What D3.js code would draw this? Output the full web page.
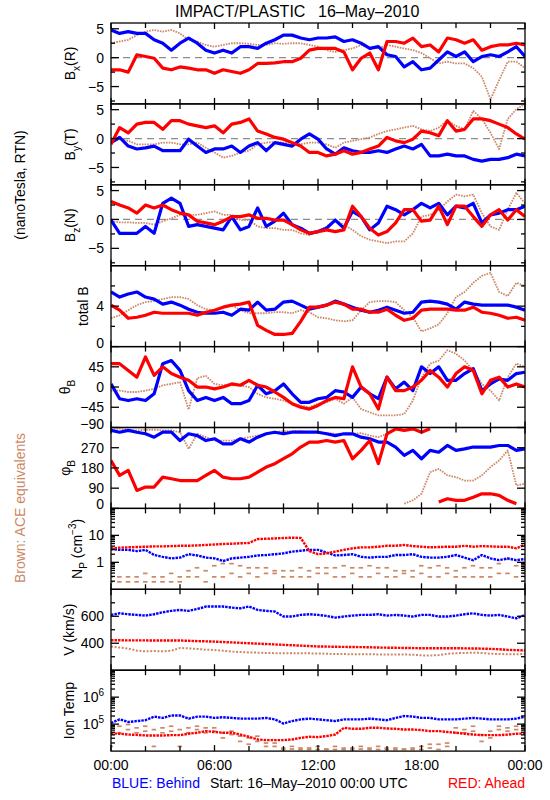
<!DOCTYPE html>
<html><head><meta charset="utf-8">
<script src="https://cdn.jsdelivr.net/npm/d3@7"></script>
<style>
body{margin:0;background:#fff}
svg text{font-family:"Liberation Sans",Arial,sans-serif;fill:#000}
</style>
</head><body>
<svg id="c" width="550" height="800"></svg>
<script>
// ---- time samples (hours from 16-May-2010 00:00 UTC) ----
const hours=[0,0.5,1,1.5,2,2.5,3,3.5,4,4.5,5,5.5,6,6.5,7,7.5,8,8.5,9,9.5,10,10.5,11,11.5,12,12.5,13,13.5,14,14.5,15,15.5,16,16.5,17,17.5,18,18.5,19,19.5,20,20.5,21,21.5,22,22.5,23,23.5,24];
const xTickHours=[0,6,12,18,24];
const xTickLabels=["00:00","06:00","12:00","18:00","00:00"];

// ---- Bx (R) nT ----
const bxBlue=[4.8,4.2,4.5,4.2,4.2,3.1,2.5,1.3,2.5,3.4,2.5,1.3,0.8,1.3,0.8,1.9,1.9,1.6,2.5,3.1,3.9,3.9,3.4,3.1,3.4,3.4,3.6,2.8,3.1,2.5,1.6,1.9,0.5,0.2,-1.6,-0.7,-2.1,-1.8,-0.4,1.0,0.2,1.0,-0.7,0.2,0.5,0.2,1.0,1.9,0.2];
const bxRed=[-2.1,-2.1,-2.5,0.5,0.2,-0.1,-1.8,-2.1,-1.6,-1.8,-2.1,-2.1,-2.7,-2.1,-2.4,-2.7,-2.1,-1.0,-1.0,-0.9,-0.7,-0.7,-0.1,1.3,1.6,1.6,1.6,1.0,-2.1,-0.1,0.8,-2.1,2.8,2.8,2.5,3.4,1.9,2.2,1.0,3.4,3.1,2.5,3.1,1.3,1.9,2.2,2.2,2.5,2.2];
const bxBrown=[2.5,2.8,3.1,3.9,4.5,4.8,4.5,4.8,4.2,3.1,2.8,2.2,1.9,2.2,2.5,2.5,2.4,2.2,2.2,2.5,2.4,2.5,2.5,2.2,1.9,1.3,1.0,1.3,1.6,2.2,1.6,1.6,2.2,1.9,1.6,1.3,0.8,-0.1,-1.0,-0.7,-1.0,-1.0,-1.8,-3.3,-7.2,-3.9,-0.7,-0.7,-1.8];
// ---- By (T) nT ----
const byBlue=[-0.7,0.2,-1.3,-1.8,-1.6,-1.3,-2.1,-2.1,-2.1,-0.1,-1.3,-2.4,-1.8,-1.8,-1.3,-2.4,-1.3,-0.7,-2.1,-0.7,-1.0,-1.3,-0.1,0.8,-0.1,-1.8,-2.7,-1.6,-2.1,-2.4,-2.4,-2.1,-2.4,-1.8,-1.3,-1.8,-1.0,-3.0,-3.0,-2.7,-3.0,-3.0,-3.6,-3.9,-3.6,-3.6,-3.3,-2.7,-3.0];
const byRed=[-1.0,1.9,1.0,2.5,2.8,2.8,1.6,3.1,3.1,2.5,2.2,1.9,2.2,1.0,2.5,2.8,3.4,1.3,0.8,0.2,-0.1,-0.7,-1.3,-2.4,-2.4,-3.0,-2.7,-2.1,-2.7,-2.4,-1.8,-1.3,0.2,-0.4,-0.7,-0.1,1.3,1.0,0.5,3.1,1.3,1.6,3.4,3.4,3.1,2.5,1.9,0.8,-0.1];
const byBrown=[-0.7,-0.1,-0.4,-1.0,-1.0,-1.0,-0.7,-0.7,-1.0,-1.0,-0.7,-1.6,-2.4,-3.3,-3.0,-2.4,-2.1,-1.0,-0.7,-0.6,-0.7,-0.7,-1.0,-0.7,-0.7,-1.0,-1.6,-0.7,-0.4,-0.1,0.2,0.8,1.3,1.6,1.9,2.2,1.6,1.3,1.9,3.1,2.2,1.6,4.8,3.4,1.0,-1.8,3.4,5.1,6.0];
// ---- Bz (N) nT ----
const bzBlue=[-0.1,-2.4,-2.4,-2.4,-1.2,-2.4,2.8,3.7,2.8,-1.2,-0.9,-1.2,-1.5,-1.8,0.5,-1.8,-1.2,2.0,-1.2,-0.3,1.1,-0.9,-1.5,-2.4,-2.1,-1.5,-0.1,-1.5,1.4,0.5,-1.8,-0.6,2.3,1.7,0.8,1.7,2.8,2.0,2.8,0.8,2.3,2.0,2.8,-0.6,0.8,1.1,1.7,1.7,2.3];
const bzRed=[3.1,2.5,2.0,1.1,2.5,2.0,2.5,1.7,1.1,0.8,-0.3,-0.6,-0.9,-0.3,0.5,0.5,0.8,0.2,0.2,-0.1,-0.1,-0.9,-1.8,-2.4,-2.1,-1.8,-2.1,-1.8,2.3,0.5,-1.5,-2.7,-2.1,-0.6,1.7,1.7,-0.3,-0.1,2.3,-0.9,2.3,2.3,0.5,-1.2,0.8,1.7,-0.1,1.7,0.5];
const bzBrown=[-0.3,-0.5,-0.5,-0.6,-0.6,-0.9,-0.3,0.2,0.8,0.8,0.8,1.1,1.4,0.8,0.8,-0.1,-0.1,-1.2,-1.5,-1.5,-1.8,-1.8,-2.4,-2.7,-2.1,-1.2,-0.1,-0.9,-1.8,-2.9,-3.5,-3.8,-4.1,-3.8,-3.8,-2.4,0.5,0.8,1.7,3.1,4.3,4.0,4.3,1.1,-1.2,-1.8,1.7,4.6,2.8];
// ---- total B nT ----
const btBlue=[5.4,4.9,5.2,5.4,4.9,4.7,4.2,4.4,4.1,3.7,3.4,3.3,3.3,3.4,3.1,3.7,3.6,4.4,3.6,3.7,4.4,4.5,4.1,3.7,3.9,4.1,4.5,4.2,3.9,3.6,3.4,3.6,3.9,3.6,3.3,3.4,4.4,4.5,4.4,4.2,3.7,4.4,4.2,4.1,4.1,4.1,4.1,3.9,3.6];
const btRed=[4.1,3.6,2.8,2.9,3.1,3.4,3.3,3.3,3.3,3.3,3.1,3.4,3.6,3.9,4.1,4.2,4.4,2.1,1.6,1.2,1.2,1.3,2.5,3.9,3.9,4.1,4.4,4.2,3.7,3.7,3.4,3.4,3.7,3.1,2.6,2.8,3.6,3.7,3.7,3.7,3.6,3.6,3.9,3.4,3.3,3.1,2.8,2.9,2.6];
const btBrown=[2.8,3.1,3.6,4.1,4.4,4.5,4.7,4.9,4.9,4.7,4.1,3.7,3.6,3.9,4.1,3.6,3.3,3.3,3.3,3.4,3.4,3.3,3.6,3.4,2.9,2.8,2.6,2.5,2.6,3.6,4.4,4.5,4.5,4.4,3.6,2.9,1.5,1.8,2.2,3.3,4.9,5.4,6.3,7.0,7.3,5.4,5.0,6.3,6.0];
// ---- theta_B deg ----
const thBlue=[7,-26,-30,-26,-30,-15,52,59,37,-8,-30,-23,-30,-23,-37,-37,-30,4,-15,-8,7,-15,-34,-34,-26,-23,-8,-11,-23,0,-15,-26,22,-4,11,-8,45,30,45,15,15,30,41,-8,7,18,15,30,33];
const thRed=[52,52,37,22,67,26,45,30,22,15,0,0,-4,0,7,4,15,4,0,-11,-23,-37,-45,-49,-41,-30,-23,-26,45,0,-15,-49,22,-8,-8,0,15,37,22,0,30,45,37,-15,15,22,0,7,0];
const thBrown=[-8,-8,-11,-11,-8,-4,4,7,11,-50,20,25,7,4,4,4,0,-15,-23,-26,-30,-37,-41,-45,-37,-34,-26,-37,-23,-49,-56,-63,-63,-63,-60,-30,22,52,59,82,74,59,37,7,-8,-30,22,52,45];
// ---- phi_B deg ----
const phBlue=[347,339,347,339,332,317,339,339,302,332,324,302,310,287,287,310,295,317,332,339,332,339,339,339,339,332,324,332,332,317,310,295,295,273,236,258,221,258,250,280,258,265,273,273,273,280,280,258,265];
const phRed=[213,147,169,80,95,95,139,132,124,124,124,147,169,139,132,132,139,161,184,199,221,243,273,295,295,302,295,302,221,258,302,199,332,354,347,354,339,354,28,43,36,36,50,65,65,58,36,21,320];
const phBrown=[354,354,350,347,350,350,347,347,339,265,332,317,302,302,302,310,317,324,332,339,344,344,344,339,339,335,332,332,332,335,324,317,332,347,21,36,65,161,176,147,139,124,124,147,184,213,258,102,110];
// ---- proton density cm^-3 ----
const npBlue=[3.1,2.9,2.9,2.6,2.9,1.87,1.6,1.4,1.5,2.0,1.8,1.5,1.4,1.12,1.4,1.5,1.6,1.8,1.87,2.0,2.15,2.5,2.7,2.9,2.9,2.3,1.8,1.87,2.0,1.6,1.5,1.6,1.6,1.87,1.87,2.0,1.6,1.5,1.5,1.6,1.87,1.5,1.2,1.87,1.4,1.2,1.4,1.2,1.33];
const npRed=[3.3,3.5,3.6,3.7,3.8,3.9,3.9,4.0,4.1,4.1,4.25,4.4,4.6,4.8,4.9,5.1,5.2,7.3,7.5,7.7,8.0,8.2,8.0,2.6,2.0,2.15,2.5,2.9,3.3,3.6,3.6,3.8,4.1,4.1,4.4,4.0,3.8,3.6,3.7,3.8,3.8,4.1,3.8,4.0,3.9,3.8,3.8,3.3,4.6];
const npBrownLo=[0.19,0.19,0.19,0.19,0.19,0.19,0.19,0.19,0.19,0.29,0.29,0.19,0.29,0.29,0.39,0.29,0.39,0.29,0.39,0.39,0.29,0.29,0.29,0.29,0.39,0.39,0.29,0.29,0.39,0.29,0.29,0.39,0.29,0.29,0.39,0.29,0.39,0.29,0.29,0.39,0.29,0.29,0.29,0.29,0.29,0.39,0.39,0.29,0.39];
const npBrownHi=[0.29,0.29,0.29,0.29,0.39,0.29,0.29,0.39,0.29,0.49,0.63,0.49,0.75,0.9,0.9,0.75,0.63,0.63,0.63,0.49,0.49,0.49,0.63,0.49,0.63,0.63,0.63,0.75,0.63,0.63,0.75,0.63,0.63,0.49,0.49,0.49,0.75,0.63,0.75,0.63,0.49,0.63,0.75,0.63,0.63,0.9,1.3,0.75,0.63];
// ---- bulk speed km/s ----
const vBlue=[610,622,615,610,605,615,630,640,647,640,654,672,672,672,664,659,672,647,640,635,598,598,610,615,610,603,590,598,605,610,610,615,605,610,605,598,610,610,598,598,605,615,622,610,605,610,598,585,610];
const vRed=[422,422,421,421,421,420,420,420,420,418,416,414,412,409,406,403,400,397,394,391,388,385,382,379,376,375,374,373,372,371,370,368,367,366,365,364,363,363,363,363,363,362,361,360,358,355,351,349,346];
const vBrown=[375,368,360,345,340,342,340,345,365,362,358,352,350,345,338,335,332,330,328,326,326,325,326,325,324,322,320,320,318,318,318,317,316,317,316,315,310,309,312,322,326,328,330,328,322,320,318,318,320];
// ---- ion temperature K ----
const tBlue=[1.1e5,1.5e5,1.2e5,1.3e5,1.4e5,1.9e5,1.7e5,2.1e5,2.1e5,1.6e5,1.9e5,1.9e5,1.7e5,1.8e5,1.7e5,1.6e5,1.6e5,1.6e5,1.7e5,1.5e5,1.05e5,1.3e5,1.5e5,1.6e5,1.5e5,1.4e5,1.3e5,1.5e5,1.5e5,1.5e5,1.6e5,1.5e5,1.4e5,1.7e5,2.0e5,1.9e5,1.7e5,1.7e5,1.5e5,1.5e5,1.5e5,1.6e5,1.7e5,1.6e5,1.5e5,1.5e5,1.5e5,1.6e5,1.9e5];
const tRed=[45000,44000,41000,40000,38000,38000,38000,39000,39000,44000,48000,55000,51000,48000,48000,41000,34000,27000,25500,25500,25500,27000,31000,34000,33000,36000,41000,73000,67000,67000,73000,73000,69000,67000,63000,63000,60000,55000,55000,51000,48000,44000,41000,39000,39000,39000,41000,44000,45000];
const tBrownA=[73000,84000,63000,73000,55000,63000,73000,55000,63000,73000,63000,73000,55000,48000,41000,36000,31000,23000,20000,15000,13000,12000,11500,13000,11500,12000,11500,13000,11500,12000,11500,11500,13000,11500,12000,11500,15000,13000,18000,15000,48000,63000,55000,41000,31000,63000,73000,84000,63000];
const tBrownB=[15000,48000,97000,48000,84000,15000,48000,84000,15000,48000,84000,48000,73000,31000,55000,23000,18000,36000,15000,20000,11500,15000,13000,11500,15000,11500,15000,11500,13000,15000,13000,15000,11500,13000,11500,13000,11500,18000,11500,20000,73000,48000,84000,23000,55000,84000,55000,63000,97000];

// ---- tick values ----
const bTicks=[-5,0,5], bMinor=[-7.5,-2.5,2.5];
const btTicks=[0,4], btMinor=[2,6];
const thTicks=[-90,-45,0,45], phTicks=[0,90,180,270];
const npTicks=[1,10], vTicks=[400,600], vMinor=[300,500,700], tTicks=[1e5,1e6];

const BLUE="#0000ff", RED="#ff0000", BROWN="#cc8866";
const svg=d3.select("#c");
const X0=111,X1=525,TOP=23,PH=80.9;
const x=d3.scaleLinear().domain([0,24]).range([X0,X1]);

function logMinor(lo,hi){const out=[];for(let d=lo;d<hi;d*=10){for(let k=2;k<=9;k++)out.push(d*k);}return out;}

const panels=[
 {dom:[-8,6],major:bTicks,minor:bMinor,zero:true,lab:[["B"],["x","sub"],["(R)"]],lx:75,
  lines:[[bxBrown,BROWN,"b"],[bxBlue,BLUE,"m"],[bxRed,RED,"m"]]},
 {dom:[-8,6],major:bTicks,minor:bMinor,zero:true,lab:[["B"],["y","sub"],["(T)"]],lx:75,
  lines:[[byBrown,BROWN,"b"],[byBlue,BLUE,"m"],[byRed,RED,"m"]]},
 {dom:[-8,6],major:bTicks,minor:bMinor,zero:true,lab:[["B"],["z","sub"],["(N)"]],lx:75,
  lines:[[bzBrown,BROWN,"b"],[bzBlue,BLUE,"m"],[bzRed,RED,"m"]]},
 {dom:[0,8],major:btTicks,minor:btMinor,lab:[["total B"]],lx:88,
  lines:[[btBrown,BROWN,"b"],[btBlue,BLUE,"m"],[btRed,RED,"m"]]},
 {dom:[-90,90],major:thTicks,minor:[],lab:[["\u03b8"],["B","sub"]],lx:70,
  lines:[[thBrown,BROWN,"b"],[thBlue,BLUE,"m"],[thRed,RED,"m"]]},
 {dom:[0,360],major:phTicks,minor:[],wrap:true,lab:[["\u03c6"],["B","sub"]],lx:70,
  lines:[[phBrown,BROWN,"b"],[phBlue,BLUE,"m"],[phRed,RED,"m"]]},
 {dom:[0.1,100],log:true,major:npTicks,minor:logMinor(0.1,100),lab:[["N"],["P","sub"],[" (cm"],["\u22123","sup"],[")"]],lx:82,
  dots:[npBrownLo,npBrownHi],lines:[[npBlue,BLUE,"p"],[npRed,RED,"p"]]},
 {dom:[200,800],major:vTicks,minor:vMinor,lab:[["V (km/s)"]],lx:74,
  lines:[[vBrown,BROWN,"bv"],[vBlue,BLUE,"p"],[vRed,RED,"p"]]},
 {dom:[1e4,1e7],log:true,major:tTicks,minor:logMinor(1e4,1e7),sup:true,lab:[["Ion Temp"]],lx:74,
  dots:[tBrownA,tBrownB],lines:[[tBlue,BLUE,"p"],[tRed,RED,"p"]]}
];

function richText(t,parts,small){
  let off=0;
  parts.forEach(([s,ty])=>{
    const ts=t.append("tspan").text(s);
    let target=0;
    if(ty==="sub"){target=5;ts.attr("font-size",small);}
    if(ty==="sup"){target=-6;ts.attr("font-size",small);}
    if(target!==off){ts.attr("dy",target-off);off=target;}
  });
}

panels.forEach((p,i)=>{
  const top=TOP+i*PH, bot=top+PH;
  const y=(p.log?d3.scaleLog():d3.scaleLinear()).domain(p.dom).range([bot,top]);
  const g=svg.append("g");
  const clipId="clip"+i;
  svg.append("clipPath").attr("id",clipId).append("rect").attr("x",X0).attr("y",top).attr("width",X1-X0).attr("height",PH);
  const data=g.append("g").attr("clip-path","url(#"+clipId+")");
  if(p.zero){
    data.append("line").attr("x1",X0).attr("x2",X1).attr("y1",y(0)).attr("y2",y(0))
      .attr("stroke","#8c8c8c").attr("stroke-width",1.3).attr("stroke-dasharray","7,5");
  }
  if(p.dots){
    p.dots.forEach(arr=>{
      data.selectAll(null).data(arr).enter().append("rect")
        .attr("x",(d,k)=>x(hours[k])-2.5).attr("y",d=>y(d)-0.8).attr("width",4.5).attr("height",1.7)
        .attr("fill",BROWN);
    });
  }
  p.lines.forEach(([arr,col,sty])=>{
    // split at phase wraps
    const segs=[];let cur=[];
    arr.forEach((v,k)=>{
      if(p.wrap&&cur.length&&Math.abs(v-cur[cur.length-1][1])>180){segs.push(cur);cur=[];}
      cur.push([hours[k],v]);
    });
    segs.push(cur);
    const ln=d3.line().x(d=>x(d[0])).y(d=>y(d[1]));
    segs.forEach(s=>{
      const path=data.append("path").attr("d",ln(s)).attr("fill","none").attr("stroke",col)
        .attr("stroke-linejoin","round");
      if(sty==="m")path.attr("stroke-width",3.2);
      if(sty==="b")path.attr("stroke-width",1.8).attr("stroke-dasharray","1.6,1.1");
      if(sty==="p")path.attr("stroke-width",2.4).attr("stroke-dasharray","2.5,1");
      if(sty==="bv")path.attr("stroke-width",2).attr("stroke-dasharray","2,1.6");
    });
  });
  // frame
  g.append("rect").attr("x",X0).attr("y",top).attr("width",X1-X0).attr("height",PH)
    .attr("fill","none").attr("stroke","#000").attr("stroke-width",1.3);
  // x ticks every 2 h, top and bottom
  const xt=d3.range(0,25,2);
  xt.forEach(h=>{
    const L=(h%6===0)?6:5;
    g.append("line").attr("x1",x(h)).attr("x2",x(h)).attr("y1",bot).attr("y2",bot-L).attr("stroke","#000").attr("stroke-width",1.3);
    g.append("line").attr("x1",x(h)).attr("x2",x(h)).attr("y1",top).attr("y2",top+L).attr("stroke","#000").attr("stroke-width",1.3);
  });
  // y ticks
  const tk=(v,L)=>{
    const yy=y(v);
    g.append("line").attr("x1",X0).attr("x2",X0+L).attr("y1",yy).attr("y2",yy).attr("stroke","#000").attr("stroke-width",1.3);
    g.append("line").attr("x1",X1).attr("x2",X1-L).attr("y1",yy).attr("y2",yy).attr("stroke","#000").attr("stroke-width",1.3);
  };
  p.major.forEach(v=>tk(v,8));
  p.minor.forEach(v=>tk(v,4));
  // tick labels (labels on the bottom edge sit slightly higher, as in the original)
  p.major.forEach(v=>{
    let yy=y(v); if(yy>bot-1) yy-=4;
    const t=g.append("text").attr("x",104).attr("y",yy).attr("dy","0.36em")
      .attr("text-anchor","end").attr("font-size",14);
    if(p.sup){richText(t,[["10"],[String(Math.round(Math.log10(v))),"sup"]],10);}
    else t.text(v<0?"\u2212"+Math.abs(v):String(v));
  });
  // y label
  const lt=svg.append("text").attr("font-size",14).attr("text-anchor","middle")
    .attr("transform","translate("+p.lx+","+(top+PH/2)+") rotate(-90)");
  richText(lt,p.lab,10);
});

// x tick labels
xTickHours.forEach((h,k)=>{
  svg.append("text").attr("x",x(h)).attr("y",770).attr("text-anchor","middle").attr("font-size",14).text(xTickLabels[k]);
});

// titles and notes
svg.append("text").attr("x",175).attr("y",17).attr("font-size",16).text("IMPACT/PLASTIC");
svg.append("text").attr("x",318).attr("y",17).attr("font-size",16).text("16\u2013May\u20132010");
svg.append("text").attr("font-size",14).attr("text-anchor","middle")
  .attr("transform","translate(25,185) rotate(-90)").text("(nanoTesla, RTN)");
svg.append("text").attr("font-size",14).attr("text-anchor","middle").style("fill",BROWN)
  .attr("transform","translate(25,508) rotate(-90)").text("Brown: ACE equivalents");
svg.append("text").attr("x",112).attr("y",788).attr("font-size",14).style("fill",BLUE).text("BLUE: Behind");
svg.append("text").attr("x",210).attr("y",788).attr("font-size",14).text("Start: 16\u2013May\u20132010 00:00 UTC");
svg.append("text").attr("x",525).attr("y",788).attr("font-size",14).attr("text-anchor","end").style("fill",RED).text("RED: Ahead");
</script>
</body></html>
